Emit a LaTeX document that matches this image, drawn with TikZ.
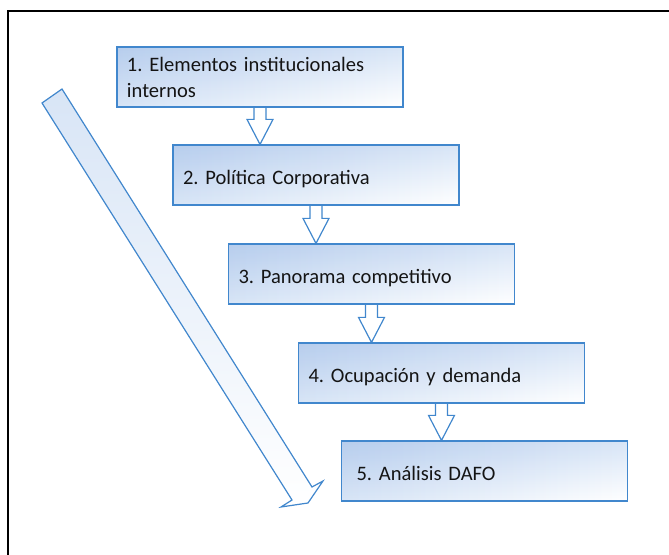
\documentclass[tikz,border=0pt]{standalone}
\usepackage{fontspec}
\setmainfont{Carlito}
\frenchspacing
\usetikzlibrary{calc}
\definecolor{boxline}{RGB}{65,135,205}
\definecolor{boxfill}{RGB}{216,229,246}
\begin{document}
\begin{tikzpicture}[x=0.75pt,y=-0.75pt]
        \tikzstyle{stage}=[draw=boxline,line width=0.9pt,left color=boxfill,middle color=white,right color=white,
          path picture={\shade[top color=boxfill,bottom color=white,blend mode=multiply] (path picture bounding box.south west) rectangle (path picture bounding box.north east);},
          minimum width=214.5pt,minimum height=45pt,inner xsep=7.5pt,text width=199.5pt,align=left,
          font=\fontsize{15.4}{19.5}\selectfont,text=black!92]
        \tikzstyle{oneline}=[text height=15pt,text depth=0pt]
        \tikzstyle{flow}=[draw=boxline,line width=0.9pt,line join=miter]
       \useasboundingbox (0,0) rectangle (669,555);
       \clip (0,0) rectangle (669,555);
       \draw[line width=1.5pt] (8,11.5) rectangle (700,600);

       % long diagonal arrow
       \shade[top color=boxfill,bottom color=white,draw=boxline,line width=0.9pt,line join=miter]
         (42,103) -- (62,89) -- (312,487) -- (323,481) -- (308,503) -- (281,507) -- (292,500) -- cycle;

         \node [stage] (b1) at (260,77) {1. Elementos institucionales\\internos};
         \node [stage,oneline] (b2) at (316,175) {2. Política Corporativa};
         \node [stage,oneline] (b3) at (371.5,274) {3. Panorama competitivo};
         \node [stage,oneline] (b4) at (441.5,373) {4. Ocupación y demanda};
         \node [stage,oneline,inner xsep=11.25pt,text width=192pt] (b5) at (484.5,471) {5. Análisis DAFO};

       \foreach \a/\b in {b1/b2,b2/b3,b3/b4,b4/b5}
         \path[flow] ($(\a.south)+(-6,0)$) -- ($(\a.south |- \b.north)+(-6,-25)$)
           -- ($(\a.south |- \b.north)+(-13,-25)$) -- (\a.south |- \b.north)
           -- ($(\a.south |- \b.north)+(13,-25)$) -- ($(\a.south |- \b.north)+(6,-25)$)
           -- ($(\a.south)+(6,0)$);
\end{tikzpicture}
\end{document}
